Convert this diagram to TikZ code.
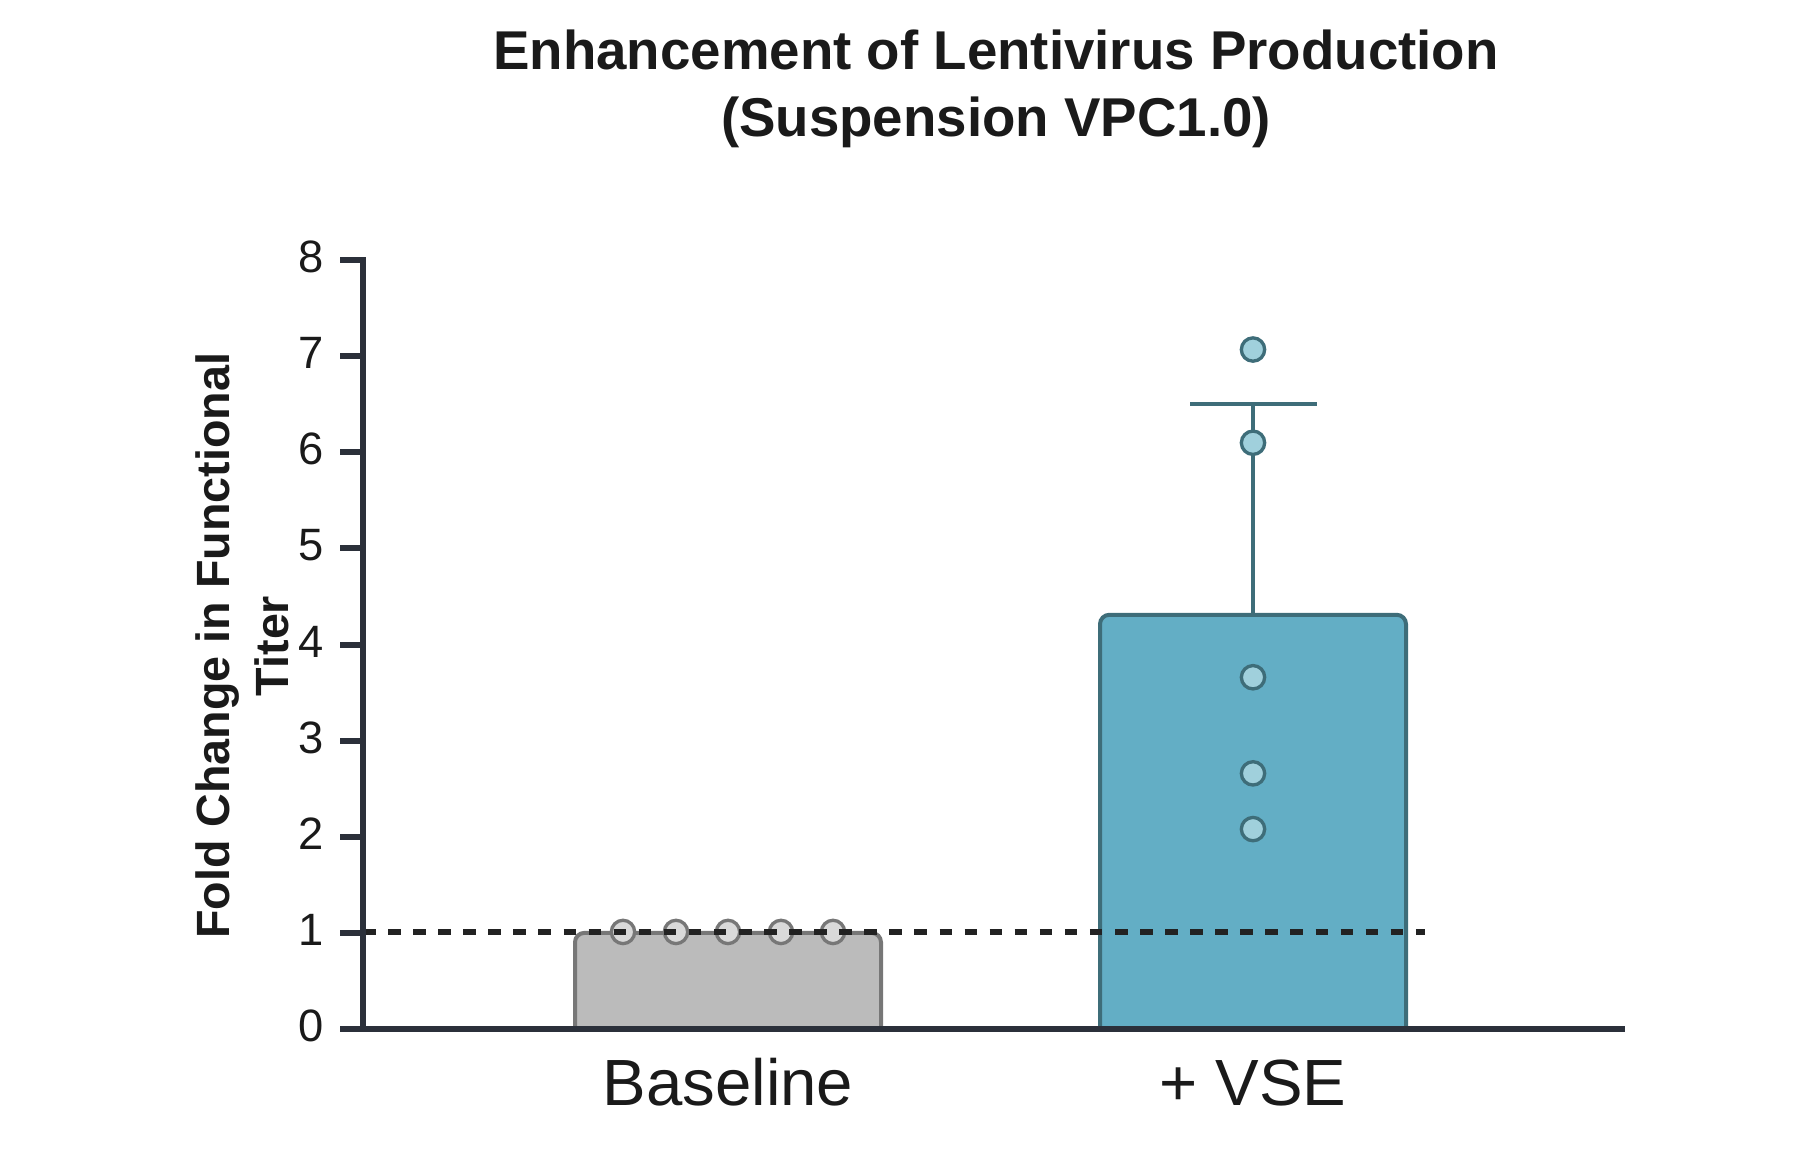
\documentclass[tikz,border=0pt]{standalone}
\usepackage{fontspec}
\setmainfont{Liberation Sans}
\usepackage{xcolor}
\usepackage{tikz}
\usetikzlibrary{positioning}

\definecolor{inkblack}{HTML}{1A1A1A}
\definecolor{axisgray}{HTML}{2B303A}
\definecolor{basefill}{HTML}{BBBBBB}
\definecolor{baseedge}{HTML}{777777}
\definecolor{basedotfill}{HTML}{D9D9D9}
\definecolor{vsefill}{HTML}{63AEC5}
\definecolor{vseedge}{HTML}{3E6D79}
\definecolor{vsedotfill}{HTML}{A0D0DC}
\definecolor{refgray}{HTML}{222222}

\begin{document}
\begin{tikzpicture}[
	x=0.75pt, y=-0.75pt,
	line join=miter
]
\tikzset{
    titlelabel/.style = {anchor=base, inner sep=0pt, text=inkblack, font=\bfseries\fontsize{41}{50}\selectfont},
    ylabel/.style = {anchor=base, rotate=90, inner sep=0pt, text=inkblack, font=\bfseries\fontsize{35}{42}\selectfont},
    ticklabel/.style = {anchor=east, inner sep=0pt, text=inkblack, font=\fontsize{34}{40}\selectfont, yshift=2.25pt},
    catlabel/.style = {anchor=base, inner sep=0pt, text=inkblack, font=\fontsize{49}{58}\selectfont},
    axisline/.style = {draw=axisgray, line width=4.5pt},
    basebar/.style = {fill=basefill, draw=baseedge, line width=3pt, rounded corners=7pt},
    vsebar/.style = {fill=vsefill, draw=vseedge, line width=3pt, rounded corners=7pt},
    errline/.style = {draw=vseedge, line width=3pt},
    basedot/.style = {circle, inner sep=0pt, minimum size=17.5pt, fill=basedotfill, draw=baseedge, line width=2.5pt},
    vsedot/.style = {circle, inner sep=0pt, minimum size=17.5pt, fill=vsedotfill, draw=vseedge, line width=2.5pt},
    refline/.style = {draw=refgray, line width=4.5pt, dash pattern=on 9.4pt off 9.4pt}
}
\useasboundingbox (0,0) rectangle (1800,1150);

% title and axis title
\node [titlelabel] (title) at (996,69) {Enhancement of Lentivirus Production};
\node [titlelabel] (subtitle) at (996,136) {(Suspension VPC1.0)};
\node [ylabel] (ytitle) at (229,646) {Fold Change in Functional};
\node [ylabel] (ytitleB) at (288,646) {Titer};

% data coordinates: origin on the axis corner, one unit per fold
\begin{scope}[shift={(363,1029)}, y=72.08pt]
  % bars
  \path [basebar] (212,0) |- (518,1) -- (518,0);
  \path [vsebar] (737,0) |- (1043,4.31) -- (1043,0);
  % error bar
  \coordinate (vsetop) at (890,4.31);
  \coordinate (errtop) at (890,6.5);
  \coordinate (capL) at (827,6.5);
  \coordinate (capR) at (954,6.5);
  \draw [errline] (vsetop) -- (errtop);
  \draw [errline] (capL) -- (capR);
  % points
  \foreach \x [count=\i] in {260,313,365,418,470}
    \node [basedot] (b\i) at (\x,1.01) {};
  \foreach \v [count=\i] in {7.07,6.1,3.66,2.66,2.08}
    \node [vsedot] (v\i) at (890,\v) {};
  % reference line
  \coordinate (refstart) at (0,1.01);
  \coordinate (refend) at (1062,1.01);
  \draw [refline] (refstart) -- (refend);
  % axes
  \coordinate (origin) at (0,0);
  \coordinate (ytop) at (0,8);
  \coordinate (ytick) at (-23,8);
  \coordinate (xstart) at (-23,0);
  \coordinate (xend) at (1262,0);
  \draw [axisline] (ytick) -- (ytop) -- (origin);
  \draw [axisline] (xstart) -- (xend);
  \foreach \v in {1,...,7}
    \draw [axisline] (-23,\v) -- (0,\v);
  \foreach \v in {0,...,8}
    \node [ticklabel] (tick\v) at (-39,\v) {\v};
  % group labels
  \node [catlabel] (baselbl) at (365,-0.80) {Baseline};
  \node [catlabel] (vselbl) at (890,-0.80) {+ VSE};
\end{scope}
\end{tikzpicture}
\end{document}
